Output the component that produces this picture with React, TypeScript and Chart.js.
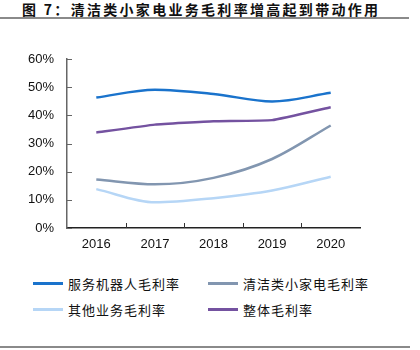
import React, { useEffect, useRef } from "react";
import { Chart, registerables } from "chart.js";

Chart.register(...registerables);

const years = ["2016", "2017", "2018", "2019", "2020"];
const robotMargin = [46.3, 49.1, 47.6, 44.9, 48.0];
const cleaningMargin = [17.2, 15.5, 17.8, 24.5, 36.4];
const otherMargin = [13.8, 9.1, 10.6, 13.3, 18.2];
const totalMargin = [33.9, 36.7, 37.9, 38.3, 42.9];
const yTicks = [0, 10, 20, 30, 40, 50, 60];

const seriesNames = ["服务机器人毛利率", "清洁类小家电毛利率", "其他业务毛利率", "整体毛利率"];
const colors = ["#1a73cc", "#8296b0", "#b6d6f6", "#7452a0"];

const innerTicks = {
  id: "innerTicks",
  afterDraw(chart: any) {
    const ctx = chart.ctx;
    const x = chart.scales.x;
    const y = chart.scales.y;
    const area = chart.chartArea;
    ctx.save();
    ctx.lineWidth = 1;
    ctx.strokeStyle = "#333";
    for (let i = 1; i < years.length; i++) {
      const px = Math.round((x.getPixelForValue(i - 1) + x.getPixelForValue(i)) / 2) + 0.5;
      ctx.beginPath();
      ctx.moveTo(px, area.bottom);
      ctx.lineTo(px, area.bottom - 5);
      ctx.stroke();
    }
    ctx.strokeStyle = "#666";
    for (const t of yTicks) {
      const py = Math.round(y.getPixelForValue(t)) + 0.5;
      ctx.beginPath();
      ctx.moveTo(area.left, py);
      ctx.lineTo(area.left + 5, py);
      ctx.stroke();
    }
    ctx.restore();
  },
};

function App() {
  const ref = useRef<HTMLCanvasElement>(null);
  useEffect(() => {
    const data = [robotMargin, cleaningMargin, otherMargin, totalMargin];
    const chart = new Chart(ref.current!, {
      type: "line",
      data: {
        labels: years,
        datasets: data.map((d, i) => ({
          label: seriesNames[i],
          data: d,
          borderColor: colors[i],
          backgroundColor: colors[i],
          borderWidth: 2.5,
          pointRadius: 0,
          tension: i === 3 ? 0.1 : 0.4,
          cubicInterpolationMode: i === 3 ? "default" : "monotone",
        })) as any,
      },
      options: {
        animation: false,
        responsive: false,
        devicePixelRatio: 1,
        layout: { padding: { top: 59, right: 60, left: 0, bottom: 0 } },
        plugins: { legend: { display: false }, tooltip: { enabled: false } },
        scales: {
          x: {
            offset: true,
            grid: { display: false, drawTicks: false },
            border: { display: true, color: "#222", width: 1.5 },
            ticks: {
              padding: 9,
              color: "#111",
              font: { family: "'Liberation Sans', Arial, sans-serif", size: 13 },
            },
            afterFit: (s: any) => {
              s.height = 32;
            },
          },
          y: {
            min: 0,
            max: 60,
            grid: { display: false, drawTicks: false },
            border: { display: true, color: "#666", width: 1.5 },
            ticks: {
              stepSize: 10,
              padding: 13,
              color: "#111",
              callback: (v: any) => v + "%",
              font: { family: "'Liberation Sans', Arial, sans-serif", size: 13 },
            },
            afterFit: (s: any) => {
              s.width = 67;
            },
          },
        },
      },
      plugins: [innerTicks],
    });
    return () => chart.destroy();
  }, []);

  const legendItem = (i: number, left: number, top: number) => (
    <div
      key={i}
      style={{
        position: "absolute",
        left,
        top,
        display: "flex",
        alignItems: "center",
        height: 20,
      }}
    >
      <div style={{ width: 30, height: 3, background: colors[i], marginRight: 5 }} />
      <span
        style={{
          fontFamily: "'Noto Sans CJK SC', sans-serif",
          fontSize: 13,
          letterSpacing: 1,
          color: "#111",
          whiteSpace: "nowrap",
        }}
      >
        {seriesNames[i]}
      </span>
    </div>
  );

  return (
    <div
      style={{
        position: "absolute",
        left: 0,
        top: 0,
        width: 420,
        height: 350,
        background: "#fff",
        overflow: "hidden",
      }}
    >
      <div
        style={{
          position: "absolute",
          left: 22,
          top: 0,
          height: 18,
          lineHeight: "18px",
          fontFamily: "'Noto Sans CJK SC', sans-serif",
          fontWeight: 700,
          fontSize: 14,
          letterSpacing: 2.3,
          color: "#111",
          whiteSpace: "nowrap",
        }}
      >
        图 7：清洁类小家电业务毛利率增高起到带动作用
      </div>
      <div style={{ position: "absolute", left: 0, top: 17, width: 409, height: 2, background: "#8a8a8a" }} />
      <canvas ref={ref} width={420} height={260} style={{ position: "absolute", left: 0, top: 0 }} />
      {legendItem(0, 33, 273)}
      {legendItem(1, 208, 273)}
      {legendItem(2, 33, 299)}
      {legendItem(3, 208, 299)}
      <div style={{ position: "absolute", left: 0, top: 346, width: 410, height: 2, background: "#8a8a8a" }} />
    </div>
  );
}

export default App;
